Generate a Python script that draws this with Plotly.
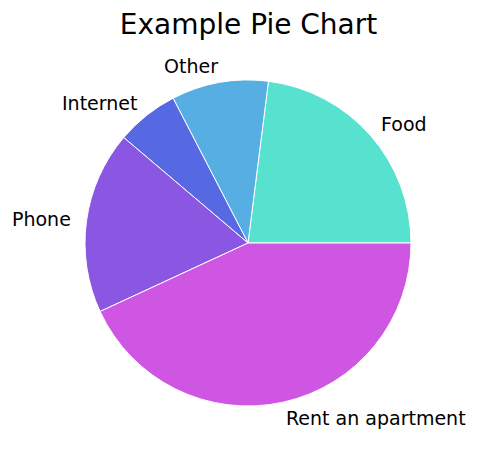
import math
import plotly.graph_objects as go

labels = ["Food", "Other", "Internet", "Phone", "Rent an apartment"]
values = [23.0, 9.6, 6.2, 18.1, 43.1]
colors = ["#56E2CF", "#56AEE2", "#5668E2", "#8A56E2", "#CF56E2"]
title_text = "Example Pie Chart"

# page body has an 8px margin, so the figure is drawn offset by (8, 8)
OFF = 8
W, H = 479 - OFF, 458 - OFF
cx, cy, r = 248.0 - OFF, 243.0 - OFF, 163.0  # pie centre / radius in pixels

dom_x = [(cx - r) / W, (cx + r) / W]
dom_y = [1 - (cy + r) / H, 1 - (cy - r) / H]

total = sum(values)
first_deg = 360.0 * values[0] / total

fig = go.Figure(go.Pie(
    labels=labels, values=values, sort=False, direction="counterclockwise",
    rotation=90 - first_deg, textinfo="none", hoverinfo="label+percent",
    marker=dict(colors=colors, line=dict(color="white", width=1)),
    domain=dict(x=dom_x, y=dom_y), showlegend=False,
))

# labels placed like matplotlib (labeldistance=1.1)
cum = 0.0
annotations = []
for lab, v in zip(labels, values):
    mid = (cum + v / 2) / total * 2 * math.pi
    cum += v
    px = cx + 1.1 * r * math.cos(mid)
    py = cy - 1.1 * r * math.sin(mid)
    right = math.cos(mid) > 0
    annotations.append(dict(
        x=px / W, y=1 - py / H, xref="paper", yref="paper", text=lab,
        showarrow=False, xanchor="left" if right else "right",
        xshift=-2 if right else 2, borderpad=0,
        yanchor="middle", font=dict(family="DejaVu Sans", size=19, color="black"),
    ))

fig.update_layout(
    width=W, height=H, margin=dict(l=0, r=0, t=0, b=0),
    paper_bgcolor="white", plot_bgcolor="white",
    annotations=annotations,
    title=dict(
        text=title_text, x=(248.5 - OFF) / W, xanchor="center", xref="container",
        y=1 - (24 - OFF) / H, yanchor="middle", yref="container",
        font=dict(family="DejaVu Sans", size=28, color="black"),
    ),
)

fig.write_html("out.html")
